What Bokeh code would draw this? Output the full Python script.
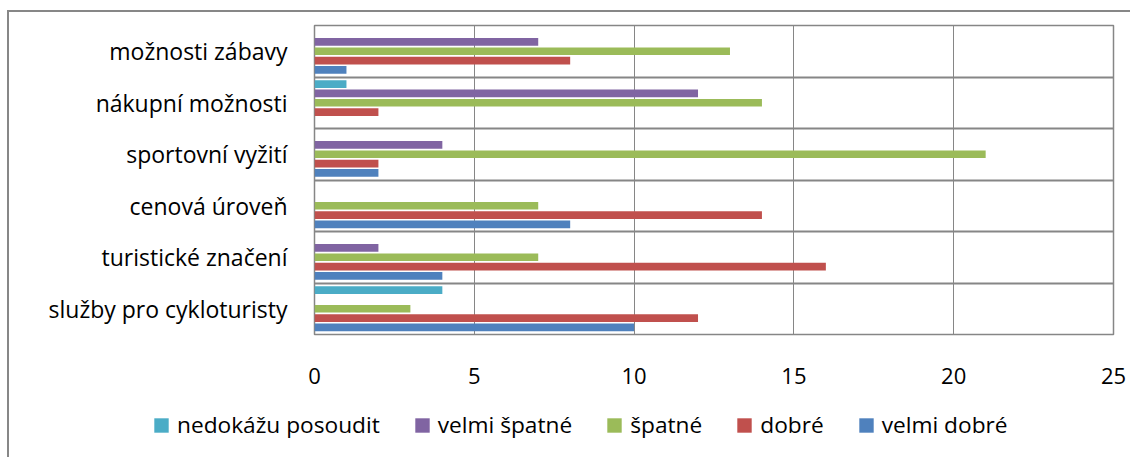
from bokeh.plotting import figure
from bokeh.models import ColumnDataSource, Range1d, FixedTicker, Legend, LegendItem
from bokeh.embed import file_html
from bokeh.resources import INLINE

# ---- data (categories listed bottom to top) ----
categories = ["služby pro cykloturisty", "turistické značení", "cenová úroveň",
              "sportovní vyžití", "nákupní možnosti", "možnosti zábavy"]
series_names = ["velmi dobré", "dobré", "špatné", "velmi špatné", "nedokážu posoudit"]
velmi_dobre = [10, 4, 8, 2, 0, 1]
dobre = [12, 16, 14, 2, 2, 8]
spatne = [3, 7, 7, 21, 14, 13]
velmi_spatne = [0, 2, 0, 4, 12, 7]
nedokazu = [4, 0, 0, 0, 1, 0]
x_ticks = [0, 5, 10, 15, 20, 25]

series_values = [velmi_dobre, dobre, spatne, velmi_spatne, nedokazu]
colors = ["#4F81BD", "#C0504D", "#9BBB59", "#8064A2", "#4BACC6"]
offsets = [-0.36, -0.18, 0.0, 0.18, 0.36]

FONT = "Open Sans"
GRID = "#868686"
BORDER = "2px solid #878787"

p = figure(width=1123, height=383, output_backend="svg", toolbar_location=None,
           x_range=Range1d(0, 25), y_range=Range1d(0, len(categories)),
           min_border_left=305, min_border_right=19, min_border_top=13,
           min_border_bottom=61)

sources = {}
for name, vals, col, off in zip(series_names, series_values, colors, offsets):
    src = ColumnDataSource(dict(y=[i + 0.5 + off for i in range(len(categories))],
                                right=vals))
    sources[name] = src
    p.hbar(y="y", left=0, right="right", height=0.15, source=src,
           fill_color=col, line_color=None)

# x axis
p.xaxis.ticker = FixedTicker(ticks=x_ticks)
p.xaxis.axis_line_color = None
p.xaxis.major_tick_line_color = None
p.xaxis.minor_tick_line_color = None
p.xaxis.major_label_standoff = 27
p.xaxis.major_label_text_font = FONT
p.xaxis.major_label_text_font_size = "22px"
p.xaxis.major_label_text_color = "#000000"

# y axis
p.yaxis.ticker = FixedTicker(ticks=[i + 0.5 for i in range(len(categories))])
p.yaxis.major_label_overrides = {i + 0.5: c for i, c in enumerate(categories)}
p.yaxis.axis_line_color = None
p.yaxis.major_tick_line_color = None
p.yaxis.minor_tick_line_color = None
p.yaxis.major_label_standoff = 21
p.yaxis.major_label_text_font = FONT
p.yaxis.major_label_text_font_size = "23px"
p.yaxis.major_label_text_color = "#000000"

# grids
p.xgrid.ticker = FixedTicker(ticks=x_ticks[1:-1])
p.xgrid.grid_line_color = GRID
p.xgrid.grid_line_width = 1
p.ygrid.ticker = FixedTicker(ticks=list(range(1, len(categories))))
p.ygrid.grid_line_color = GRID
p.ygrid.grid_line_width = 2

p.outline_line_color = GRID
p.outline_line_width = 1.5
p.background_fill_color = "white"
p.border_fill_color = "white"
p.margin = (10, 0, 0, 7)
p.styles = {"border-left": BORDER, "border-top": BORDER}

# legend figure (separate root, below the chart)
leg = figure(width=1123, height=64, output_backend="svg", toolbar_location=None,
             x_range=Range1d(0, 1), y_range=Range1d(0, 1),
             x_axis_type=None, y_axis_type=None,
             min_border_left=0, min_border_right=0, min_border_top=0,
             min_border_bottom=0)
leg.grid.visible = False
leg.outline_line_color = None
leg.background_fill_color = "white"
leg.border_fill_color = "white"
leg.margin = (0, 0, 0, 7)
leg.styles = {"border-left": BORDER}

rmap = {}
for name, col in zip(series_names, colors):
    rmap[name] = leg.hbar(y="y", left=0, right="right", height=0.15,
                          source=sources[name], fill_color=col, line_color=None,
                          visible=False)

legend_order = ["nedokážu posoudit", "velmi špatné", "špatné", "dobré", "velmi dobré"]
legend = Legend(items=[LegendItem(label=n, renderers=[rmap[n]]) for n in legend_order],
                orientation="horizontal", location=(143, 17),
                glyph_width=18, glyph_height=18, label_standoff=7, spacing=33,
                padding=0, margin=0, border_line_color=None,
                background_fill_alpha=0, click_policy="none",
                label_text_font=FONT, label_text_font_size="22.7px",
                label_text_color="#000000")
leg.add_layout(legend, "center")

open("out.html", "w").write(file_html([p, leg], INLINE))
